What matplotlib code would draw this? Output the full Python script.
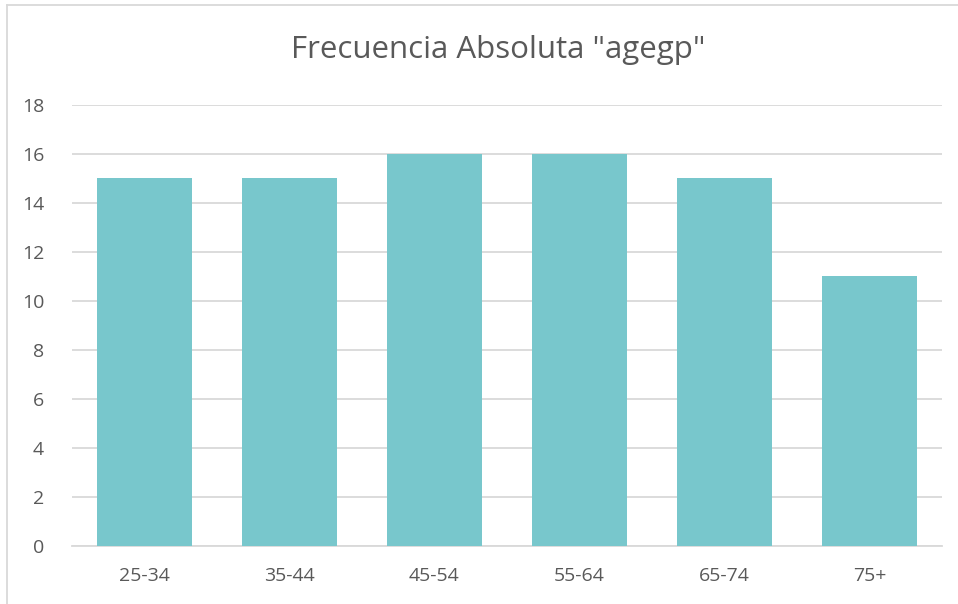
import matplotlib.pyplot as plt
from matplotlib.lines import Line2D

categories = ['25-34', '35-44', '45-54', '55-64', '65-74', '75+']
counts = [15, 15, 16, 16, 15, 11]
y_ticks = [0, 2, 4, 6, 8, 10, 12, 14, 16, 18]

text_color = '#595959'
bar_color = '#78C7CC'
grid_color = '#D9D9D9'

plt.rcParams['font.family'] = ['Open Sans', 'DejaVu Sans']

fig = plt.figure(figsize=(9.58, 6.04), dpi=100)
ax = fig.add_axes([72 / 958, 58 / 604, 870 / 958, 441 / 604])

x = range(len(categories))
ax.bar(x, counts, width=0.66, color=bar_color, zorder=3)

ax.set_xlim(-0.5, len(categories) - 0.5)
ax.set_ylim(0, 18)
ax.set_yticks(y_ticks)
ax.set_xticks(list(x))
ax.set_xticklabels(categories)

ax.grid(axis='y', color=grid_color, linewidth=1.3, zorder=0)
for side in ['top', 'right', 'left']:
    ax.spines[side].set_visible(False)
ax.spines['bottom'].set_color(grid_color)
ax.spines['bottom'].set_linewidth(1.3)
ax.tick_params(axis='both', length=0, colors=text_color, labelsize=14)
ax.tick_params(axis='y', pad=20)
ax.tick_params(axis='x', pad=15)

fig.text(498 / 958, 1 - 50 / 604, 'Frecuencia Absoluta "agegp"',
         ha='center', va='center', fontsize=22.5, color=text_color)

# chart-area border (left and top edges visible)
fig.add_artist(Line2D([6.5 / 958, 6.5 / 958], [0, 1 - 5 / 604],
                      color='#D9D9D9', linewidth=1.3, transform=fig.transFigure))
fig.add_artist(Line2D([6.5 / 958, 1], [1 - 5 / 604, 1 - 5 / 604],
                      color='#D9D9D9', linewidth=1.3, transform=fig.transFigure))

plt.savefig('out.png', dpi=100)
plt.close()
